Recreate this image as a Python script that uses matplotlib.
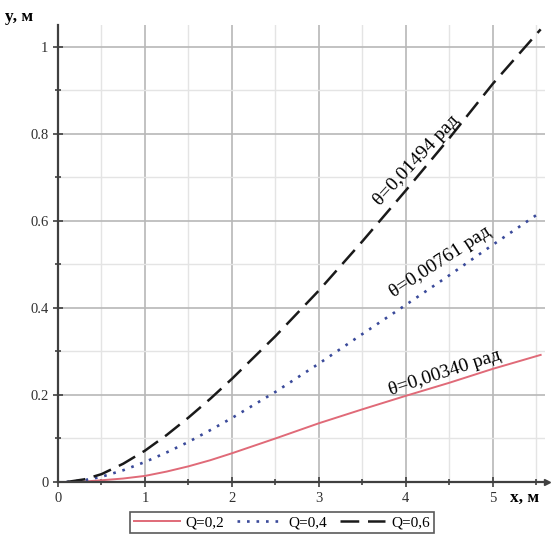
import numpy as np
import matplotlib.pyplot as plt
from matplotlib.ticker import MultipleLocator

# ── Données ────────────────────────────────────────────────────
x_pts = [0.1, 0.3, 0.5, 0.75, 1.0, 1.25, 1.5, 1.75, 2.0, 2.5, 3.0, 3.5, 4.0, 4.5, 5.0, 5.55]
y_q02 = [0.0, 0.001, 0.004, 0.008, 0.014, 0.024, 0.036, 0.050, 0.066, 0.100, 0.135, 0.167,
         0.198, 0.228, 0.260, 0.292]
y_q04 = [0.0, 0.004, 0.012, 0.027, 0.046, 0.068, 0.092, 0.119, 0.147, 0.207, 0.272, 0.340,
         0.407, 0.475, 0.545, 0.620]
y_q06 = [0.0, 0.006, 0.018, 0.042, 0.072, 0.108, 0.148, 0.191, 0.237, 0.335, 0.440, 0.553,
         0.670, 0.790, 0.915, 1.040]

labels = ["Q=0,2", "Q=0,4", "Q=0,6"]
angles = ["θ=0,00340 рад", "θ=0,00761 рад", "θ=0,01494 рад"]
x_ticks = [0, 1, 2, 3, 4, 5]
y_ticks = [0, 0.2, 0.4, 0.6, 0.8, 1]
y_tick_labels = ["0", "0.2", "0.4", "0.6", "0.8", "1"]

plt.rcParams["font.family"] = ["Liberation Serif", "DejaVu Serif"]

fig = plt.figure(figsize=(5.57, 5.39), dpi=100)
ax = fig.add_axes([58 / 557, 57 / 539, 487 / 557, 457 / 539])

ax.plot(x_pts, y_q02, "-", color="#e06a78", lw=1.4, label=labels[0])
ax.plot(x_pts, y_q04, ":", color="#3a4a9a", lw=1.9, dashes=(1, 2.6), label=labels[1])
ax.plot(x_pts, y_q06, "--", color="#1a1a1a", lw=1.8, dashes=(7.5, 3.5), label=labels[2])

ax.set_xlim(0, 5.6)
ax.set_ylim(0, 1.05)

# ── Grille ──
ax.xaxis.set_major_locator(MultipleLocator(1))
ax.xaxis.set_minor_locator(MultipleLocator(0.5))
ax.set_yticks(y_ticks)
ax.set_yticklabels(y_tick_labels)
ax.set_xticks(x_ticks)
ax.yaxis.set_minor_locator(MultipleLocator(0.1))
ax.grid(which="major", color="#b8b8b8", lw=1.2)
ax.grid(which="minor", color="#e4e4e4", lw=1.0)
ax.set_axisbelow(True)

for s in ["top", "right"]:
    ax.spines[s].set_visible(False)
for s in ["left", "bottom"]:
    ax.spines[s].set_color("#404040")
    ax.spines[s].set_linewidth(1.6)

ax.tick_params(which="both", direction="inout", color="#404040", width=1.2,
               labelsize=10.5, labelcolor="#303030")
ax.tick_params(which="major", length=7)
ax.tick_params(which="minor", length=5)
ax.plot(1.005, 0, ">", color="#404040", ms=5, transform=ax.get_yaxis_transform(),
        clip_on=False)

# ── Annotations des angles ──
ax.text(4.45, 0.25, angles[0], rotation=18, fontsize=14, ha="center", va="center")
ax.text(4.40, 0.505, angles[1], rotation=33, fontsize=14, ha="center", va="center")
ax.text(4.12, 0.74, angles[2], rotation=47, fontsize=14, ha="center", va="center")

fig.text(5 / 557, 1 - 17 / 539, "y, м", fontsize=12.5, fontweight="bold", va="center")
fig.text(510 / 557, 1 - 498 / 539, "x, м", fontsize=12.5, fontweight="bold", va="center")

leg = fig.legend(loc="center", bbox_to_anchor=(282 / 557, 16.5 / 539), ncol=3,
                 fontsize=11, frameon=True, fancybox=False, handlelength=3.0,
                 columnspacing=0.8, handletextpad=0.4, borderpad=0.25)
leg.get_frame().set_edgecolor("#303030")
leg.get_frame().set_linewidth(1.2)

plt.savefig("out.png", dpi=100)
